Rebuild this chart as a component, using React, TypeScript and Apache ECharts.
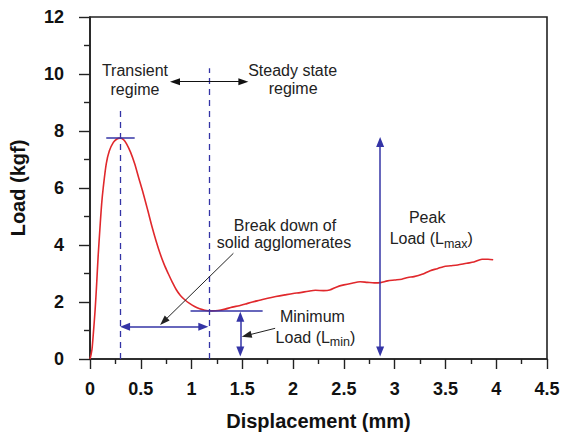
import React, { useEffect, useRef } from "react";
import * as echarts from "echarts";

// ---- Data ----
const X_MIN = 0;
const X_MAX = 4.5;
const X_STEP = 0.5;
const Y_MIN = 0;
const Y_MAX = 12;
const Y_STEP = 2;

const displacement = [
  0, 0.01, 0.02, 0.033, 0.05, 0.065, 0.08, 0.1, 0.115, 0.13, 0.16, 0.19, 0.23, 0.265, 0.296,
  0.33, 0.36, 0.4, 0.44, 0.48, 0.525, 0.57, 0.61, 0.65, 0.69, 0.73, 0.77, 0.81, 0.85, 0.89,
  0.936, 0.98, 1.03, 1.08, 1.13, 1.2, 1.26, 1.33, 1.4, 1.47, 1.53, 1.6, 1.67, 1.75, 1.83,
  1.92, 2.0, 2.07, 2.15, 2.22, 2.3, 2.36, 2.43, 2.5, 2.58, 2.66, 2.73, 2.8, 2.86, 2.93, 3.0,
  3.07, 3.13, 3.19, 3.27, 3.35, 3.42, 3.48, 3.55, 3.62, 3.71, 3.78, 3.86, 3.92, 3.97,
];
const load = [
  0, 0.15, 0.35, 0.9, 1.7, 2.6, 3.6, 4.7, 5.45, 6.0, 6.85, 7.3, 7.6, 7.72, 7.75,
  7.7, 7.55, 7.25, 6.85, 6.35, 5.8, 5.2, 4.65, 4.15, 3.7, 3.32, 3.0, 2.7, 2.43, 2.23,
  2.07, 1.95, 1.84, 1.76, 1.71, 1.69, 1.7, 1.75, 1.82, 1.87, 1.93, 2.0, 2.06, 2.13, 2.19,
  2.25, 2.3, 2.33, 2.38, 2.41, 2.4, 2.42, 2.53, 2.6, 2.66, 2.71, 2.69, 2.67, 2.68, 2.74, 2.77,
  2.8, 2.86, 2.89, 2.97, 3.1, 3.17, 3.24, 3.27, 3.3, 3.36, 3.4, 3.5, 3.5, 3.48,
];

// annotation segments: [x1, y1, x2, y2]
const dashedLines = [
  [0.3, 0, 0.3, 8.75],
  [1.17, 0, 1.17, 10.2],
];
const plainLines = [
  [0.16, 7.75, 0.44, 7.75],
  [0.99, 1.68, 1.7, 1.68],
];
const doubleArrowsBlue = [
  [0.345, 1.13, 1.116, 1.13],
  [1.48, 1.48, 1.48, 0.26],
  [2.857, 0.26, 2.857, 7.61],
];
const doubleArrowsBlack = [[0.837, 9.73, 1.51, 9.73]];
const pointerArrows = [
  [1.412, 3.71, 0.725, 1.315],
  [1.823, 1.077, 1.542, 0.825],
];

// texts: [x, y, text]
const labels: [number, number, string][] = [
  [0.443, 10.12, "Transient"],
  [0.443, 9.45, "regime"],
  [1.995, 10.14, "Steady state"],
  [2.0, 9.5, "regime"],
  [1.92, 4.7, "Break down of"],
  [1.91, 4.08, "solid agglomerates"],
  [2.19, 1.48, "Minimum"],
  [3.32, 4.95, "Peak"],
];
const subLabels: [number, number, string, string][] = [
  [2.22, 0.84, "Load (L", "min"],
  [3.36, 4.29, "Load (L", "max"],
];

const FONT = "'Liberation Sans', Arial, Helvetica, sans-serif";
const BLUE = "#3434a6";
const RED = "#e0282c";

function seg(s: number[], extra: any) {
  return [
    { coord: [s[0], s[1]], ...extra.from },
    { coord: [s[2], s[3]], ...extra.to },
  ].map((p, i) => (i === 0 ? { ...p, lineStyle: extra.lineStyle } : p));
}

export default function App() {
  const ref = useRef<HTMLDivElement>(null);
  useEffect(() => {
    document.body.style.margin = "0";
    const chart = echarts.init(ref.current!, null, { renderer: "svg" });

    const mlData: any[] = [];
    dashedLines.forEach((s) =>
      mlData.push(
        seg(s, {
          from: { symbol: "none" },
          to: { symbol: "none" },
          lineStyle: { color: BLUE, width: 1.3, type: [6, 5] },
        })
      )
    );
    plainLines.forEach((s) =>
      mlData.push(
        seg(s, {
          from: { symbol: "none" },
          to: { symbol: "none" },
          lineStyle: { color: BLUE, width: 1.5, type: "solid" },
        })
      )
    );
    doubleArrowsBlue.forEach((s) =>
      mlData.push(
        seg(s, {
          from: { symbol: "triangle", symbolSize: [8, 10] },
          to: { symbol: "triangle", symbolSize: [8, 10] },
          lineStyle: { color: BLUE, width: 1.5, type: "solid" },
        })
      )
    );
    doubleArrowsBlack.forEach((s) =>
      mlData.push(
        seg(s, {
          from: { symbol: "triangle", symbolSize: [7, 10] },
          to: { symbol: "triangle", symbolSize: [7, 10] },
          lineStyle: { color: "#111", width: 1, type: "solid" },
        })
      )
    );
    pointerArrows.forEach((s) =>
      mlData.push(
        seg(s, {
          from: { symbol: "none" },
          to: { symbol: "triangle", symbolSize: [7, 10] },
          lineStyle: { color: "#222", width: 1, type: "solid" },
        })
      )
    );

    const axisCommon = {
      axisLine: { show: true, onZero: false, lineStyle: { color: "#222", width: 1.6 } },
      splitLine: { show: false },
      axisLabel: {
        color: "#111",
        fontFamily: FONT,
        fontWeight: "bold",
        fontSize: 18,
      },
      nameTextStyle: {
        color: "#111",
        fontFamily: FONT,
        fontWeight: "bold",
        fontSize: 20,
      },
    };

    chart.setOption({
      animation: false,
      grid: {
        left: 90,
        right: 14,
        top: 17,
        bottom: 76,
        show: true,
        borderColor: "#222",
        borderWidth: 1.6,
        containLabel: false,
        outerBoundsMode: "none",
      },
      xAxis: {
        type: "value",
        min: X_MIN,
        max: X_MAX,
        interval: X_STEP,
        ...axisCommon,
        axisTick: { show: true, length: 10, lineStyle: { color: "#222", width: 1.4 } },
        minorTick: { show: true, splitNumber: 2, length: 5, lineStyle: { color: "#222", width: 1.4 } },
        axisLabel: { ...axisCommon.axisLabel, margin: 21 },
        name: "Displacement (mm)",
        nameLocation: "middle",
        nameGap: 52,
      },
      yAxis: {
        type: "value",
        min: Y_MIN,
        max: Y_MAX,
        interval: Y_STEP,
        ...axisCommon,
        axisTick: { show: true, length: 11, lineStyle: { color: "#222", width: 1.4 } },
        minorTick: { show: true, splitNumber: 2, length: 6, lineStyle: { color: "#222", width: 1.4 } },
        axisLabel: { ...axisCommon.axisLabel, margin: 26 },
        name: "Load (kgf)",
        nameLocation: "middle",
        nameGap: 62,
      },
      series: [
        {
          type: "line",
          data: displacement.map((x, i) => [x, load[i]]),
          showSymbol: false,
          symbol: "none",
          smooth: 0.3,
          lineStyle: { color: RED, width: 1.6 },
          markLine: {
            silent: true,
            symbol: "none",
            label: { show: false },
            emphasis: { disabled: true },
            data: mlData,
          },
        },
      ],
    });

    const txtStyle = {
      font: `16px ${FONT}`,
      fill: "#222",
      align: "center",
      verticalAlign: "middle",
    };
    const graphics: any[] = [];
    labels.forEach(([x, y, t]) => {
      const [px, py] = chart.convertToPixel({ gridIndex: 0 }, [x, y]) as number[];
      graphics.push({
        type: "text",
        x: px,
        y: py,
        silent: true,
        style: { ...txtStyle, text: t },
      });
    });
    subLabels.forEach(([x, y, t, s]) => {
      const [px, py] = chart.convertToPixel({ gridIndex: 0 }, [x, y]) as number[];
      graphics.push({
        type: "text",
        x: px,
        y: py + 2,
        silent: true,
        style: {
          ...txtStyle,
          text: `{n|${t}}{s|${s}}{n|)}`,
          rich: {
            n: { fontSize: 16, fontFamily: FONT, lineHeight: 20, fill: "#222" },
            s: { fontSize: 12.5, fontFamily: FONT, lineHeight: 12, fill: "#222", padding: [10, 0, 0, 0] },
          },
        },
      });
    });
    chart.setOption({ graphic: graphics });

    return () => chart.dispose();
  }, []);
  return <div ref={ref} style={{ width: 561, height: 435 }} />;
}
